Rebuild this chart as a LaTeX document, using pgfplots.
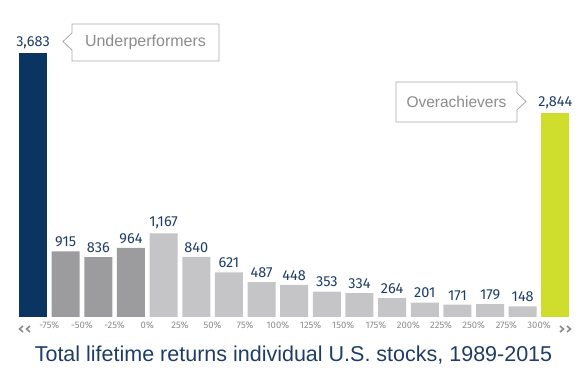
\documentclass[border=0pt]{standalone}
\usepackage{fontspec}
\setmainfont{Liberation Sans}
\newfontfamily\numfont{Fira Sans}
\usepackage{pgfplots}
\pgfplotsset{compat=1.18}
\definecolor{navy}{HTML}{0B3561}
\definecolor{dgray}{HTML}{9C9C9E}
\definecolor{lgray}{HTML}{C5C5C7}
\definecolor{lime}{HTML}{CFDE2D}
\definecolor{lblue}{HTML}{1E3D66}
\definecolor{tgray}{HTML}{8C8C8C}
\definecolor{bgray}{HTML}{AAAAAA}
\begin{document}
\begin{tikzpicture}
\useasboundingbox (0,0) rectangle (587pt,377pt);
\begin{axis}[at={(16.7pt,60pt)}, anchor=south west, scale only axis,
  width=555pt, height=264pt, xmin=-0.5, xmax=16.5, ymin=0, ymax=3683,
  axis line style={draw=none}, ytick=\empty, major tick length=0pt,
  clip=false, ybar, bar width=28pt, bar shift=0pt,
  /pgf/number format/assume math mode=true,
  /pgf/number format/1000 sep={,},
  xtick={0.5,1.5,...,15.5},
  xticklabels={-75\%,-50\%,-25\%,0\%,25\%,50\%,75\%,100\%,125\%,150\%,175\%,200\%,225\%,250\%,275\%,300\%},
  xticklabel style={font=\numfont\fontsize{9.5}{9.5}\selectfont, text=tgray, yshift=-1pt},
  nodes near coords,
  every node near coord/.append style={font=\numfont\fontsize{14.5}{14.5}\selectfont, text=lblue, yshift=1pt},
]
\addplot[fill=navy, draw=none] coordinates {(0,3683)};
\addplot[fill=dgray, draw=none] coordinates {(1,915) (2,836) (3,964)};
\addplot[fill=lgray, draw=none] coordinates {(4,1167) (5,840) (6,621) (7,487) (8,448) (9,353) (10,334) (11,264) (12,201) (13,171) (14,179) (15,148)};
\addplot[fill=lime, draw=none] coordinates {(16,2844)};
\end{axis}
% chevrons
\begin{scope}[draw=tgray, line width=1.6pt]
\draw (23pt,51pt) -- (19.5pt,48pt) -- (23pt,45pt);
\draw (30pt,51pt) -- (26.5pt,48pt) -- (30pt,45pt);
\draw (560pt,51pt) -- (563.5pt,48pt) -- (560pt,45pt);
\draw (567pt,51pt) -- (570.5pt,48pt) -- (567pt,45pt);
\end{scope}
% callouts
\draw[bgray, line width=0.8pt, fill=white] (72pt,316pt) -- (219pt,316pt) -- (219pt,353pt) -- (72pt,353pt) -- (72pt,344pt) -- (63pt,335.5pt) -- (72pt,327pt) -- cycle;
\node[text=tgray, font=\fontsize{16}{16}\selectfont] at (145.5pt,334.5pt) {Underperformers};
\draw[bgray, line width=0.8pt, fill=white] (396pt,255pt) -- (517pt,255pt) -- (517pt,267pt) -- (526pt,275.5pt) -- (517pt,284pt) -- (517pt,295pt) -- (396pt,295pt) -- cycle;
\node[text=tgray, font=\fontsize{15.5}{15.5}\selectfont] at (456.5pt,275pt) {Overachievers};
\node[text=lblue, font=\fontsize{21.5}{21.5}\selectfont] at (293.5pt,22pt) {Total lifetime returns individual U.S. stocks, 1989-2015};
\end{tikzpicture}
\end{document}
